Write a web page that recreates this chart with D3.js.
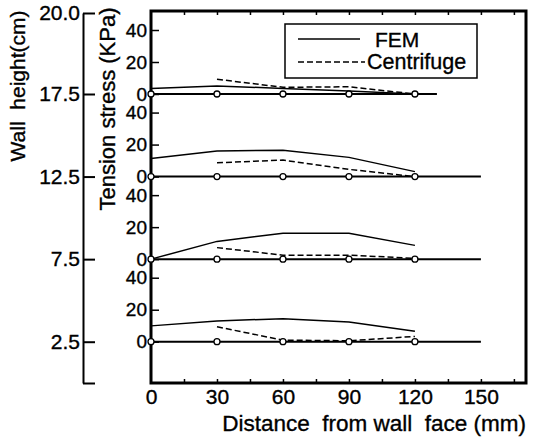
<!DOCTYPE html>
<html>
<head>
<meta charset="utf-8">
<script src="https://cdn.jsdelivr.net/npm/d3@7"></script>
<style>
  html, body { margin: 0; padding: 0; background: #fff; }
  svg { display: block; font-family: "Liberation Sans", Arial, sans-serif; }
  text { fill: #000; stroke: #000; stroke-width: 0.35px; }
</style>
</head>
<body>
<svg id="chart" width="535" height="437"></svg>
<script>
// Measurement positions along each reinforcement layer (mm from wall face)
const distances = [0, 30, 60, 90, 120];
// Wall height of each reinforcement layer (cm), top to bottom
const wallHeights = [17.5, 12.5, 7.5, 2.5];
// Length of each reinforcement layer (mm)
const layerLengths = [130, 150, 150, 150];
// Tension stress (KPa) per layer, FEM analysis
const femStress = [
  [3.5, 5.0, 3.5, 1.9, 0.0],
  [11.3, 16.0, 16.5, 12.0, 3.1],
  [0.0, 11.1, 16.2, 16.2, 8.6],
  [9.9, 13.0, 14.4, 12.3, 6.6]
];
// Tension stress (KPa) per layer, centrifuge test (no reading at the wall face)
const centrifugeStress = [
  [null, 9.2, 4.2, 4.5, 0.0],
  [null, 8.6, 10.3, 4.5, 0.0],
  [null, 7.2, 2.5, 2.5, 0.5],
  [null, 9.3, 1.0, 0.6, 3.3]
];
const xTickValues = [0, 30, 60, 90, 120, 150];
const stressTickValues = [0, 20, 40];
const wallTickValues = [0, 2.5, 7.5, 12.5, 17.5, 20];
const legendLabels = ["FEM", "Centrifuge"];

const svg = d3.select("#chart");
const frameLeft = 151, frameRight = 526, frameTop = 11, frameBottom = 383;

const x = d3.scaleLinear().domain([0, 170.5]).range([frameLeft, frameRight]);
// Wall height axis: linear up to the top layer, top end labelled at the frame top
const wall = d3.scaleLinear().domain([0, 17.5, 20]).range([frameBottom, 94, 13]);
const stressPx = d3.scaleLinear().domain([0, 40]).range([0, 64]);

// Wall height axis
const wallAxis = svg.append("g")
  .attr("transform", "translate(83,0)")
  .call(d3.axisLeft(wall).tickValues(wallTickValues)
    .tickSizeInner(-12).tickSizeOuter(0).tickPadding(3)
    .tickFormat(d => d === 0 ? "" : d3.format(".1f")(d)));
wallAxis.select(".domain").attr("stroke-width", 2);
wallAxis.selectAll(".tick line").attr("stroke-width", 2);
wallAxis.selectAll("text").attr("font-size", 21).attr("font-family", "Liberation Sans, Arial, sans-serif");

svg.append("text")
  .attr("transform", "translate(25,86) rotate(-90)")
  .attr("text-anchor", "middle")
  .attr("font-size", 21)
  .style("white-space", "pre")
  .text("Wall  height(cm)");

svg.append("text")
  .attr("transform", "translate(115,109) rotate(-90)")
  .attr("text-anchor", "middle")
  .attr("font-size", 22)
  .text("Tension stress (KPa)");

// Frame
svg.append("rect")
  .attr("x", frameLeft).attr("y", frameTop)
  .attr("width", frameRight - frameLeft).attr("height", frameBottom - frameTop)
  .attr("fill", "none").attr("stroke", "#000").attr("stroke-width", 3);

// Distance axis (ticks point inward)
const minorTicks = d3.range(15, 170, 15);
const xAxis = svg.append("g")
  .attr("transform", `translate(0,${frameBottom})`)
  .call(d3.axisBottom(x).tickValues(xTickValues).tickSize(0).tickPadding(6));
xAxis.select(".domain").remove();
xAxis.selectAll("text").attr("font-size", 21).attr("font-family", "Liberation Sans, Arial, sans-serif");
svg.append("g").attr("transform", `translate(0,${frameBottom})`)
  .call(d3.axisBottom(x).tickValues(minorTicks).tickSize(-4).tickFormat(""))
  .call(g => g.select(".domain").remove())
  .selectAll("line").attr("stroke-width", 1.5);
svg.append("g").attr("transform", `translate(0,${frameTop})`)
  .call(d3.axisTop(x).tickValues(minorTicks).tickSize(-4).tickFormat(""))
  .call(g => g.select(".domain").remove())
  .selectAll("line").attr("stroke-width", 1.5);

svg.append("text")
  .attr("x", 526).attr("y", 431)
  .attr("text-anchor", "end")
  .attr("font-size", 22.5)
  .style("white-space", "pre")
  .text("Distance  from wall  face (mm)");

// One stacked panel per reinforcement layer
wallHeights.forEach((h, i) => {
  const zero = wall(h);
  const y = d3.scaleLinear().domain([0, 40]).range([zero, zero - stressPx(40)]);

  const ax = svg.append("g")
    .attr("transform", `translate(${frameLeft},0)`)
    .call(d3.axisLeft(y).tickValues(stressTickValues)
      .tickSizeInner(-8).tickSizeOuter(0).tickPadding(4));
  ax.select(".domain").remove();
  ax.selectAll(".tick line").attr("stroke-width", 1.5);
  ax.selectAll("text").attr("font-size", 19).attr("font-family", "Liberation Sans, Arial, sans-serif");

  // reinforcement layer
  svg.append("line")
    .attr("x1", x(0)).attr("x2", x(layerLengths[i]))
    .attr("y1", y(0)).attr("y2", y(0))
    .attr("stroke", "#000").attr("stroke-width", 2);

  const line = d3.line()
    .defined(d => d[1] !== null)
    .x(d => x(d[0])).y(d => y(d[1]));

  svg.append("path")
    .datum(distances.map((d, j) => [d, femStress[i][j]]))
    .attr("d", line)
    .attr("fill", "none").attr("stroke", "#000").attr("stroke-width", 1.5);

  svg.append("path")
    .datum(distances.map((d, j) => [d, centrifugeStress[i][j]]))
    .attr("d", line)
    .attr("fill", "none").attr("stroke", "#000").attr("stroke-width", 1.5)
    .attr("stroke-dasharray", "6,3");

  svg.append("g").selectAll("circle")
    .data(distances)
    .join("circle")
    .attr("cx", d => x(d)).attr("cy", y(0)).attr("r", 3)
    .attr("fill", "#fff").attr("stroke", "#000").attr("stroke-width", 1.3);
});

// Legend
const legend = svg.append("g");
legend.append("rect")
  .attr("x", 285).attr("y", 24).attr("width", 192).attr("height", 54)
  .attr("fill", "#fff").attr("stroke", "#000").attr("stroke-width", 1.5);
legend.append("line").attr("x1", 298).attr("x2", 360).attr("y1", 39).attr("y2", 39)
  .attr("stroke", "#000").attr("stroke-width", 1.5);
legend.append("line").attr("x1", 298).attr("x2", 365).attr("y1", 62).attr("y2", 62)
  .attr("stroke", "#000").attr("stroke-width", 1.5).attr("stroke-dasharray", "6,3");
legend.append("text").attr("x", 375).attr("y", 47).attr("font-size", 21).text(legendLabels[0]);
legend.append("text").attr("x", 367).attr("y", 69).attr("font-size", 21.5).text(legendLabels[1]);
</script>
</body>
</html>
